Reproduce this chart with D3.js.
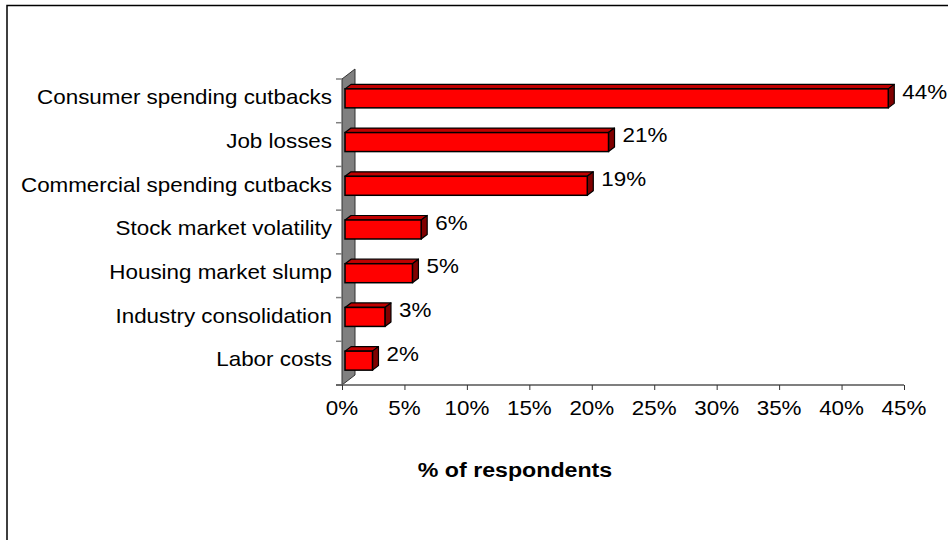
<!DOCTYPE html>
<html><head><meta charset="utf-8">
<script src="https://cdn.jsdelivr.net/npm/d3@7"></script>
<style>body{margin:0;background:#fff;} text{font-family:"Liberation Sans",Arial,sans-serif;}</style>
</head><body><svg id="c" width="948" height="540"></svg>
<script>
const categories = ["Consumer spending cutbacks","Job losses","Commercial spending cutbacks","Stock market volatility","Housing market slump","Industry consolidation","Labor costs"];
const values = [43.5, 21.1, 19.4, 6.1, 5.4, 3.2, 2.2];
const xTicks = [0,5,10,15,20,25,30,35,40,45];
const axisTitle = "% of respondents";

const svg = d3.select("#c");
svg.append("rect").attr("x",7).attr("y",5.5).attr("width",1000).attr("height",1000)
  .attr("fill","#fff").attr("stroke","#000").attr("stroke-width",1.5);

const x = d3.scaleLinear().domain([0,45]).range([342,904]);
const y = d3.scaleBand().domain(categories).range([79,385]);
const wall = {dx:13, dy:-10};
const front = {dx:3, dy:-2.5}, back = {dx:9, dy:-7};
const barH = 19;
const fs = 20, sx = 1.12;

function txt(parent, px, py, s, anchor, opts={}) {
  const t = parent.append("text")
    .attr("transform",`translate(${px},${py}) scale(${opts.sx||sx},1)`)
    .attr("text-anchor",anchor).attr("dominant-baseline","middle")
    .attr("font-size",fs).attr("fill","#000").text(s);
  if (opts.bold) t.attr("font-weight","bold");
  return t;
}

// wall
svg.append("polygon")
  .attr("points", [[x(0),79],[x(0)+wall.dx,79+wall.dy],[x(0)+wall.dx,385+wall.dy],[x(0),385]].map(p=>p.join(",")).join(" "))
  .attr("fill","#808080").attr("stroke","#333").attr("stroke-width",1);

// y ticks
const yb = categories.map(c=>y(c)).concat([385]);
svg.selectAll(".yt").data(yb).enter().append("line")
  .attr("x1",336).attr("x2",x(0)).attr("y1",d=>d).attr("y2",d=>d)
  .attr("stroke","#808080").attr("stroke-width",1.5);

// x axis
const xa = svg.append("g").attr("transform","translate(0,385)")
  .call(d3.axisBottom(x).tickValues(xTicks).tickSize(5).tickFormat(d=>d+"%"));
xa.select(".domain").attr("stroke","#555").attr("stroke-width",1.5).attr("d",`M336,0H${x(45)}`);
xa.selectAll(".tick line").attr("stroke","#333");
xa.selectAll(".tick text").remove();
xTicks.forEach(t=>txt(svg, x(t), 410, t+"%", "middle"));

// bars
const data = categories.map((c,i)=>({c, v:values[i]}));
const g = svg.append("g");
data.slice().reverse().forEach(d=>{
  const top = y(d.c) + (y.bandwidth()-barH)/2;
  const x0 = x(0), x1 = x(d.v);
  const F = (px,py)=>[px+front.dx, py+front.dy];
  const B = (px,py)=>[px+back.dx, py+back.dy];
  const pts = a=>a.map(p=>p.join(",")).join(" ");
  g.append("polygon").attr("points",pts([F(x0,top),F(x1,top),B(x1,top),B(x0,top)]))
    .attr("fill","#c00000").attr("stroke","#000").attr("stroke-width",1.2).attr("stroke-linejoin","round");
  g.append("polygon").attr("points",pts([F(x1,top),B(x1,top),B(x1,top+barH),F(x1,top+barH)]))
    .attr("fill","#800000").attr("stroke","#000").attr("stroke-width",1.2).attr("stroke-linejoin","round");
  const f0 = F(x0,top);
  g.append("rect").attr("x",f0[0]).attr("y",f0[1]).attr("width",x1-x0).attr("height",barH)
    .attr("fill","#ff0000").attr("stroke","#000").attr("stroke-width",1.5);
  txt(g, x1+front.dx+14, top+front.dy+barH/2-5, Math.round(d.v)+"%", "start");
});

// category labels
categories.forEach(c=>txt(svg, 332, y(c)+y.bandwidth()/2-2, c, "end"));

// axis title
txt(svg, 515, 472, axisTitle, "middle", {bold:true, sx:1.16});
</script></body></html>
